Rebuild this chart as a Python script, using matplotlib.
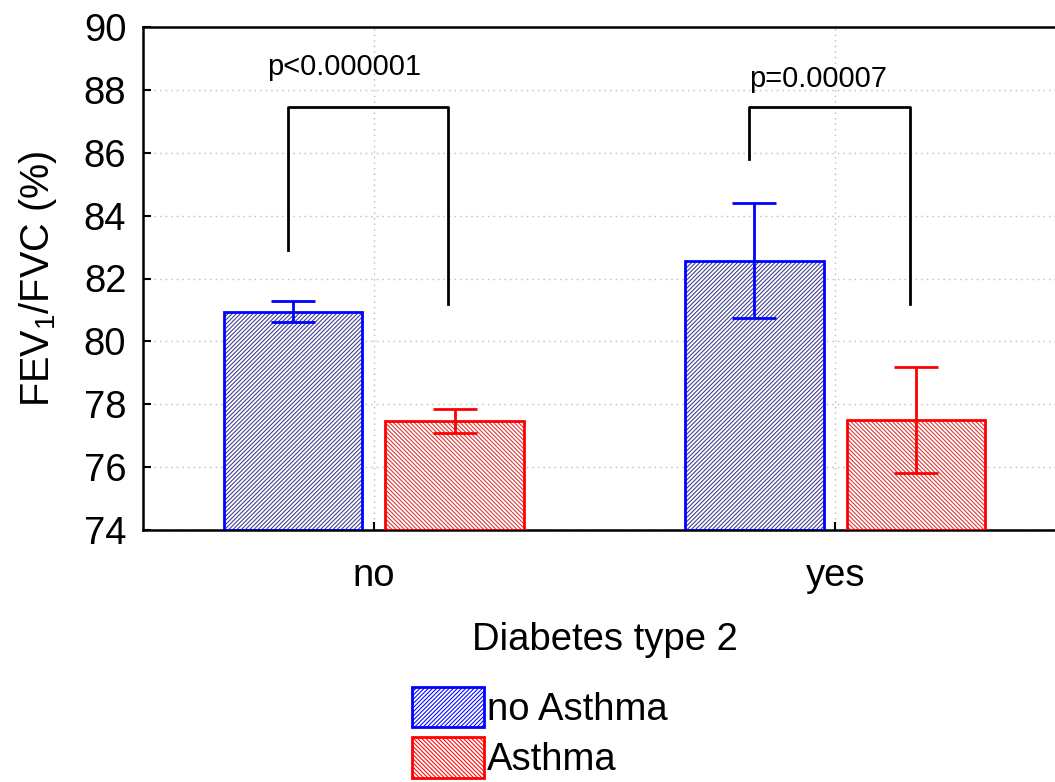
import matplotlib
matplotlib.use("Agg")
import matplotlib.pyplot as plt
import numpy as np

# data
groups = ["no", "yes"]
series = ["no Asthma", "Asthma"]
no_asthma_mean = [80.95, 82.57]
no_asthma_err = [0.32, 1.83]
asthma_mean = [77.47, 77.50]
asthma_err = [0.38, 1.70]
p_labels = ["p<0.000001", "p=0.00007"]
p_label_x = [-0.065, 0.963]
p_label_y = [88.47, 88.09]
bracket_top = [87.46, 87.46]
bracket_left_end = [82.9, 85.8]
bracket_right_end = [81.2, 81.2]

plt.rcParams.update(
    {
        "font.family": "Liberation Sans",
        "font.size": 27.5,
        "mathtext.fontset": "custom",
        "mathtext.rm": "Liberation Sans",
        "mathtext.it": "Liberation Sans:italic",
        "hatch.linewidth": 0.75,
    }
)

fig = plt.figure(figsize=(10.55, 7.82), dpi=100)
ax = fig.add_axes([143 / 1055, 1 - 530 / 782, (1066 - 143) / 1055, 503 / 782])

x = np.arange(len(groups))
width = 0.30
offset = 0.175
blue = "#0000FF"
red = "#FF0000"
hatch_blue = "////////"
hatch_red = "\\\\\\\\\\\\\\\\"

# hatched fill, then coloured outline on top
ax.bar(x - offset, np.array(no_asthma_mean) - 74, width, bottom=74,
       color="white", edgecolor="#383888", hatch=hatch_blue, linewidth=0, zorder=2)
ax.bar(x - offset, np.array(no_asthma_mean) - 74, width, bottom=74,
       fill=False, edgecolor=blue, linewidth=2.0, zorder=3)
ax.bar(x + offset, np.array(asthma_mean) - 74, width, bottom=74,
       color="white", edgecolor="#D83030", hatch=hatch_red, linewidth=0, zorder=2)
ax.bar(x + offset, np.array(asthma_mean) - 74, width, bottom=74,
       fill=False, edgecolor=red, linewidth=2.0, zorder=3)

ax.errorbar(x - offset, no_asthma_mean, yerr=no_asthma_err, fmt="none",
            ecolor=blue, elinewidth=2.0, capsize=16, capthick=2.0, zorder=4)
ax.errorbar(x + offset, asthma_mean, yerr=asthma_err, fmt="none",
            ecolor=red, elinewidth=2.0, capsize=16, capthick=2.0, zorder=4)

# significance brackets
for i in range(len(groups)):
    xl = x[i] - offset - 0.011
    xr = x[i] + offset - 0.014
    ax.plot([xl, xl, xr, xr],
            [bracket_left_end[i], bracket_top[i], bracket_top[i], bracket_right_end[i]],
            color="black", lw=2.0, zorder=5)
    ax.text(p_label_x[i], p_label_y[i], p_labels[i],
            ha="center", va="baseline", fontsize=21)

ax.set_xlim(-0.5, 1.5)
ax.set_ylim(74, 90)
ax.set_yticks(np.arange(74, 91, 2))
ax.set_xticks(x)
ax.set_xticklabels(groups)
ax.tick_params(axis="both", direction="in", length=6, width=1.5)
ax.tick_params(axis="x", pad=20)
ax.tick_params(axis="y", pad=12)
ax.grid(True, linestyle=(0, (1, 3)), color="#BBBBBB", linewidth=1.0, zorder=0)
ax.set_axisbelow(True)
for sp in ax.spines.values():
    sp.set_linewidth(1.8)
ax.set_xlabel("Diabetes type 2", labelpad=20)
ax.set_ylabel("FEV$_1$/FVC (%)", labelpad=18, fontsize=28.5)

handles = [
    plt.Rectangle((0, 0), 1, 1, facecolor="white", edgecolor=blue, hatch=hatch_blue, linewidth=2),
    plt.Rectangle((0, 0), 1, 1, facecolor="white", edgecolor=red, hatch=hatch_red, linewidth=2),
]
fig.legend(handles, series, loc="upper left", bbox_to_anchor=(385 / 1055, 1 - 660 / 782),
           frameon=False, handlelength=1.9, handleheight=1.25, handletextpad=0.08,
           labelspacing=0.25, borderpad=0.2)

fig.savefig("out.png", dpi=100, facecolor="white")
